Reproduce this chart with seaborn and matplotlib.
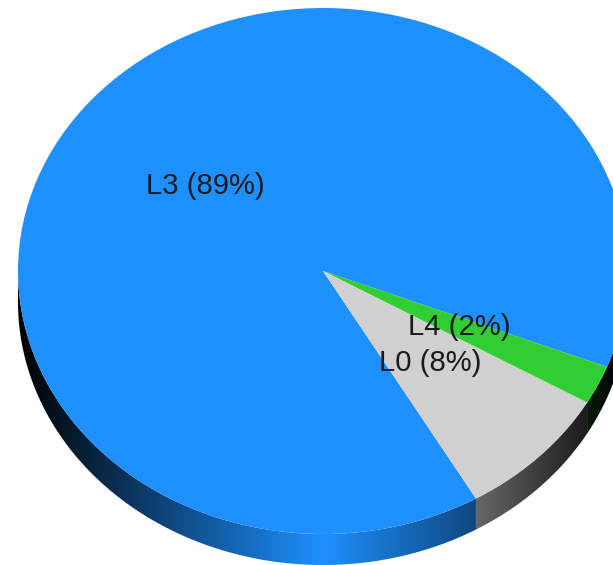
import matplotlib
matplotlib.use("Agg")
import matplotlib.pyplot as plt
from matplotlib.path import Path
from matplotlib.patches import PathPatch
import numpy as np
import seaborn as sns

# Data
levels = ["L3", "L4", "L0"]
shares = [89.3, 2.4, 8.3]
colors = ["#1e90ff", "#32cd32", "#d0d0d0"]

sns.set_theme(style="white")
plt.rcParams["font.family"] = ["Liberation Sans", "DejaVu Sans"]

W, H = 613, 565
CX, CY, RX, RY = 323, 271, 305, 263
DEPTH = 31 / RY
START = -59.9


def to_data(px, py):
    return (px - CX) / RX, (CY - py) / RY


fig = plt.figure(figsize=(W / 100, H / 100), dpi=100)
ax = fig.add_axes([0, 0, 1, 1])

wedges, _ = ax.pie(shares, colors=colors, startangle=START, counterclock=False,
                   radius=1, center=(0, 0), wedgeprops={"linewidth": 0, "zorder": 3})
ax.set_aspect("auto")

x0, y1 = to_data(0, 0)
x1, y0 = to_data(W, H)

# Side wall: only the front half of each slice shows, shaded darker to the edges
xs = np.linspace(-1, 1, 800)
shade = np.clip(1 - np.abs(xs), 0, 1)
for wedge, color in zip(wedges, colors):
    a1, a2 = wedge.theta1, wedge.theta2
    # clockwise slices run past -360, so try every full turn
    for shift in (-360, 0, 360, 720):
        lo = max(a1 + shift, 180)
        hi = min(a2 + shift, 360)
        if hi <= lo:
            continue
        t = np.radians(np.linspace(lo, hi, 200))
        top = np.column_stack([np.cos(t), np.sin(t)])
        bottom = np.column_stack([np.cos(t[::-1]), np.sin(t[::-1]) - DEPTH])
        verts = np.vstack([top, bottom, top[:1]])
        codes = [Path.MOVETO] + [Path.LINETO] * (len(verts) - 2) + [Path.CLOSEPOLY]
        rgb = np.array(matplotlib.colors.to_rgb(color))
        grad = (shade[:, None] * rgb)[None, :, :]
        im = ax.imshow(grad, extent=(-1, 1, -1 - DEPTH, 0), aspect="auto",
                       origin="lower", zorder=2, interpolation="bilinear")
        patch = PathPatch(Path(verts, codes), facecolor="none", edgecolor="none",
                          transform=ax.transData)
        ax.add_patch(patch)
        im.set_clip_path(patch)

ax.set_xlim(x0, x1)
ax.set_ylim(y0, y1)
ax.set_aspect("auto")
ax.axis("off")

# Labels
label_px = {"L3": (205.5, 186), "L4": (459.5, 327), "L0": (430, 363)}
for name, share in zip(levels, shares):
    lx, ly = to_data(*label_px[name])
    ax.text(lx, ly, f"{name} ({round(share)}%)", ha="center", va="center",
            fontsize=21.1, color="#1a1a1a", zorder=5)

fig.savefig("out.png", dpi=100)
